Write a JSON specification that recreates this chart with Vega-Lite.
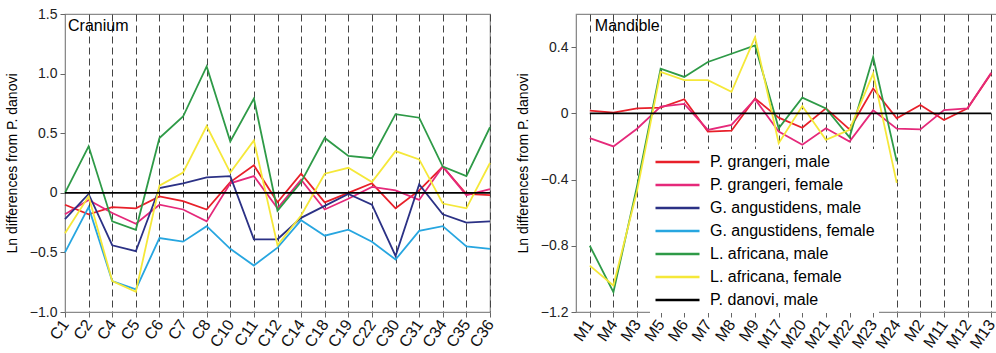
{
  "$schema": "https://vega.github.io/schema/vega-lite/v6.json",
  "padding": {"left": 4, "top": 6, "right": 0, "bottom": 0},
  "config": {
    "font": "Liberation Sans",
    "view": {"stroke": "#8a8a8a", "strokeWidth": 1.2},
    "axis": {"labelFont": "Liberation Sans", "titleFont": "Liberation Sans"}
  },
  "datasets": {
    "cranium": [
      {"part":"C1","series":"P. grangeri, male","value":-0.10},{"part":"C2","series":"P. grangeri, male","value":-0.18},{"part":"C4","series":"P. grangeri, male","value":-0.12},{"part":"C5","series":"P. grangeri, male","value":-0.13},{"part":"C6","series":"P. grangeri, male","value":-0.03},{"part":"C7","series":"P. grangeri, male","value":-0.07},{"part":"C8","series":"P. grangeri, male","value":-0.14},{"part":"C10","series":"P. grangeri, male","value":0.09},{"part":"C11","series":"P. grangeri, male","value":0.23},{"part":"C12","series":"P. grangeri, male","value":-0.08},{"part":"C14","series":"P. grangeri, male","value":0.16},{"part":"C18","series":"P. grangeri, male","value":-0.08},{"part":"C19","series":"P. grangeri, male","value":0.0},{"part":"C22","series":"P. grangeri, male","value":0.08},{"part":"C30","series":"P. grangeri, male","value":-0.13},{"part":"C31","series":"P. grangeri, male","value":0.02},{"part":"C34","series":"P. grangeri, male","value":0.22},{"part":"C35","series":"P. grangeri, male","value":-0.01},{"part":"C36","series":"P. grangeri, male","value":-0.02},
      {"part":"C1","series":"P. grangeri, female","value":-0.18},{"part":"C2","series":"P. grangeri, female","value":-0.06},{"part":"C4","series":"P. grangeri, female","value":-0.17},{"part":"C5","series":"P. grangeri, female","value":-0.26},{"part":"C6","series":"P. grangeri, female","value":-0.10},{"part":"C7","series":"P. grangeri, female","value":-0.14},{"part":"C8","series":"P. grangeri, female","value":-0.24},{"part":"C10","series":"P. grangeri, female","value":0.08},{"part":"C11","series":"P. grangeri, female","value":0.14},{"part":"C12","series":"P. grangeri, female","value":-0.13},{"part":"C14","series":"P. grangeri, female","value":0.11},{"part":"C18","series":"P. grangeri, female","value":-0.14},{"part":"C19","series":"P. grangeri, female","value":-0.05},{"part":"C22","series":"P. grangeri, female","value":0.05},{"part":"C30","series":"P. grangeri, female","value":0.02},{"part":"C31","series":"P. grangeri, female","value":-0.06},{"part":"C34","series":"P. grangeri, female","value":0.22},{"part":"C35","series":"P. grangeri, female","value":-0.02},{"part":"C36","series":"P. grangeri, female","value":0.03},
      {"part":"C1","series":"G. angustidens, male","value":-0.22},{"part":"C2","series":"G. angustidens, male","value":-0.01},{"part":"C4","series":"G. angustidens, male","value":-0.44},{"part":"C5","series":"G. angustidens, male","value":-0.49},{"part":"C6","series":"G. angustidens, male","value":0.04},{"part":"C7","series":"G. angustidens, male","value":0.08},{"part":"C8","series":"G. angustidens, male","value":0.13},{"part":"C10","series":"G. angustidens, male","value":0.14},{"part":"C11","series":"G. angustidens, male","value":-0.39},{"part":"C12","series":"G. angustidens, male","value":-0.39},{"part":"C14","series":"G. angustidens, male","value":-0.21},{"part":"C18","series":"G. angustidens, male","value":-0.11},{"part":"C19","series":"G. angustidens, male","value":-0.01},{"part":"C22","series":"G. angustidens, male","value":-0.10},{"part":"C30","series":"G. angustidens, male","value":-0.53},{"part":"C31","series":"G. angustidens, male","value":0.07},{"part":"C34","series":"G. angustidens, male","value":-0.18},{"part":"C35","series":"G. angustidens, male","value":-0.25},{"part":"C36","series":"G. angustidens, male","value":-0.24},
      {"part":"C1","series":"G. angustidens, female","value":-0.50},{"part":"C2","series":"G. angustidens, female","value":-0.12},{"part":"C4","series":"G. angustidens, female","value":-0.74},{"part":"C5","series":"G. angustidens, female","value":-0.81},{"part":"C6","series":"G. angustidens, female","value":-0.38},{"part":"C7","series":"G. angustidens, female","value":-0.41},{"part":"C8","series":"G. angustidens, female","value":-0.28},{"part":"C10","series":"G. angustidens, female","value":-0.47},{"part":"C11","series":"G. angustidens, female","value":-0.61},{"part":"C12","series":"G. angustidens, female","value":-0.46},{"part":"C14","series":"G. angustidens, female","value":-0.23},{"part":"C18","series":"G. angustidens, female","value":-0.36},{"part":"C19","series":"G. angustidens, female","value":-0.31},{"part":"C22","series":"G. angustidens, female","value":-0.41},{"part":"C30","series":"G. angustidens, female","value":-0.56},{"part":"C31","series":"G. angustidens, female","value":-0.32},{"part":"C34","series":"G. angustidens, female","value":-0.28},{"part":"C35","series":"G. angustidens, female","value":-0.45},{"part":"C36","series":"G. angustidens, female","value":-0.47},
      {"part":"C1","series":"L. africana, male","value":0.0},{"part":"C2","series":"L. africana, male","value":0.39},{"part":"C4","series":"L. africana, male","value":-0.24},{"part":"C5","series":"L. africana, male","value":-0.31},{"part":"C6","series":"L. africana, male","value":0.46},{"part":"C7","series":"L. africana, male","value":0.64},{"part":"C8","series":"L. africana, male","value":1.06},{"part":"C10","series":"L. africana, male","value":0.43},{"part":"C11","series":"L. africana, male","value":0.79},{"part":"C12","series":"L. africana, male","value":-0.15},{"part":"C14","series":"L. africana, male","value":0.09},{"part":"C18","series":"L. africana, male","value":0.46},{"part":"C19","series":"L. africana, male","value":0.31},{"part":"C22","series":"L. africana, male","value":0.29},{"part":"C30","series":"L. africana, male","value":0.66},{"part":"C31","series":"L. africana, male","value":0.63},{"part":"C34","series":"L. africana, male","value":0.22},{"part":"C35","series":"L. africana, male","value":0.14},{"part":"C36","series":"L. africana, male","value":0.55},
      {"part":"C1","series":"L. africana, female","value":-0.34},{"part":"C2","series":"L. africana, female","value":-0.03},{"part":"C4","series":"L. africana, female","value":-0.74},{"part":"C5","series":"L. africana, female","value":-0.83},{"part":"C6","series":"L. africana, female","value":0.06},{"part":"C7","series":"L. africana, female","value":0.17},{"part":"C8","series":"L. africana, female","value":0.56},{"part":"C10","series":"L. africana, female","value":0.17},{"part":"C11","series":"L. africana, female","value":0.44},{"part":"C12","series":"L. africana, female","value":-0.44},{"part":"C14","series":"L. africana, female","value":-0.19},{"part":"C18","series":"L. africana, female","value":0.16},{"part":"C19","series":"L. africana, female","value":0.21},{"part":"C22","series":"L. africana, female","value":0.09},{"part":"C30","series":"L. africana, female","value":0.35},{"part":"C31","series":"L. africana, female","value":0.28},{"part":"C34","series":"L. africana, female","value":-0.09},{"part":"C35","series":"L. africana, female","value":-0.13},{"part":"C36","series":"L. africana, female","value":0.25},
      {"part":"C1","series":"P. danovi, male","value":0},{"part":"C2","series":"P. danovi, male","value":0},{"part":"C4","series":"P. danovi, male","value":0},{"part":"C5","series":"P. danovi, male","value":0},{"part":"C6","series":"P. danovi, male","value":0},{"part":"C7","series":"P. danovi, male","value":0},{"part":"C8","series":"P. danovi, male","value":0},{"part":"C10","series":"P. danovi, male","value":0},{"part":"C11","series":"P. danovi, male","value":0},{"part":"C12","series":"P. danovi, male","value":0},{"part":"C14","series":"P. danovi, male","value":0},{"part":"C18","series":"P. danovi, male","value":0},{"part":"C19","series":"P. danovi, male","value":0},{"part":"C22","series":"P. danovi, male","value":0},{"part":"C30","series":"P. danovi, male","value":0},{"part":"C31","series":"P. danovi, male","value":0},{"part":"C34","series":"P. danovi, male","value":0},{"part":"C35","series":"P. danovi, male","value":0},{"part":"C36","series":"P. danovi, male","value":0}
    ],
    "mandible": [
      {"part":"M1","series":"P. grangeri, male","value":0.016},{"part":"M4","series":"P. grangeri, male","value":0.004},{"part":"M3","series":"P. grangeri, male","value":0.03},{"part":"M5","series":"P. grangeri, male","value":0.034},{"part":"M6","series":"P. grangeri, male","value":0.085},{"part":"M7","series":"P. grangeri, male","value":-0.11},{"part":"M8","series":"P. grangeri, male","value":-0.105},{"part":"M9","series":"P. grangeri, male","value":0.09},{"part":"M17","series":"P. grangeri, male","value":-0.026},{"part":"M20","series":"P. grangeri, male","value":-0.087},{"part":"M21","series":"P. grangeri, male","value":0.03},{"part":"M22","series":"P. grangeri, male","value":-0.097},{"part":"M23","series":"P. grangeri, male","value":0.15},{"part":"M24","series":"P. grangeri, male","value":-0.03},{"part":"M2","series":"P. grangeri, male","value":0.05},{"part":"M11","series":"P. grangeri, male","value":-0.04},{"part":"M12","series":"P. grangeri, male","value":0.03},{"part":"M13","series":"P. grangeri, male","value":0.24},
      {"part":"M1","series":"P. grangeri, female","value":-0.15},{"part":"M4","series":"P. grangeri, female","value":-0.20},{"part":"M3","series":"P. grangeri, female","value":-0.093},{"part":"M5","series":"P. grangeri, female","value":0.04},{"part":"M6","series":"P. grangeri, female","value":0.057},{"part":"M7","series":"P. grangeri, female","value":-0.10},{"part":"M8","series":"P. grangeri, female","value":-0.07},{"part":"M9","series":"P. grangeri, female","value":0.085},{"part":"M17","series":"P. grangeri, female","value":-0.11},{"part":"M20","series":"P. grangeri, female","value":-0.19},{"part":"M21","series":"P. grangeri, female","value":-0.09},{"part":"M22","series":"P. grangeri, female","value":-0.17},{"part":"M23","series":"P. grangeri, female","value":0.018},{"part":"M24","series":"P. grangeri, female","value":-0.093},{"part":"M2","series":"P. grangeri, female","value":-0.097},{"part":"M11","series":"P. grangeri, female","value":0.02},{"part":"M12","series":"P. grangeri, female","value":0.03},{"part":"M13","series":"P. grangeri, female","value":0.245},
      {"part":"M1","series":"L. africana, male","value":-0.80},{"part":"M4","series":"L. africana, male","value":-1.08},{"part":"M3","series":"L. africana, male","value":-0.44},{"part":"M5","series":"L. africana, male","value":0.27},{"part":"M6","series":"L. africana, male","value":0.22},{"part":"M7","series":"L. africana, male","value":0.31},{"part":"M8","series":"L. africana, male","value":0.36},{"part":"M9","series":"L. africana, male","value":0.41},{"part":"M17","series":"L. africana, male","value":-0.09},{"part":"M20","series":"L. africana, male","value":0.095},{"part":"M21","series":"L. africana, male","value":0.03},{"part":"M22","series":"L. africana, male","value":-0.145},{"part":"M23","series":"L. africana, male","value":0.34},{"part":"M24","series":"L. africana, male","value":-0.29},
      {"part":"M1","series":"L. africana, female","value":-0.92},{"part":"M4","series":"L. africana, female","value":-1.04},{"part":"M3","series":"L. africana, female","value":-0.47},{"part":"M5","series":"L. africana, female","value":0.25},{"part":"M6","series":"L. africana, female","value":0.20},{"part":"M7","series":"L. africana, female","value":0.20},{"part":"M8","series":"L. africana, female","value":0.13},{"part":"M9","series":"L. africana, female","value":0.46},{"part":"M17","series":"L. africana, female","value":-0.18},{"part":"M20","series":"L. africana, female","value":0.044},{"part":"M21","series":"L. africana, female","value":-0.16},{"part":"M22","series":"L. africana, female","value":-0.10},{"part":"M23","series":"L. africana, female","value":0.24},{"part":"M24","series":"L. africana, female","value":-0.42},
      {"part":"M1","series":"P. danovi, male","value":0},{"part":"M4","series":"P. danovi, male","value":0},{"part":"M3","series":"P. danovi, male","value":0},{"part":"M5","series":"P. danovi, male","value":0},{"part":"M6","series":"P. danovi, male","value":0},{"part":"M7","series":"P. danovi, male","value":0},{"part":"M8","series":"P. danovi, male","value":0},{"part":"M9","series":"P. danovi, male","value":0},{"part":"M17","series":"P. danovi, male","value":0},{"part":"M20","series":"P. danovi, male","value":0},{"part":"M21","series":"P. danovi, male","value":0},{"part":"M22","series":"P. danovi, male","value":0},{"part":"M23","series":"P. danovi, male","value":0},{"part":"M24","series":"P. danovi, male","value":0},{"part":"M2","series":"P. danovi, male","value":0},{"part":"M11","series":"P. danovi, male","value":0},{"part":"M12","series":"P. danovi, male","value":0},{"part":"M13","series":"P. danovi, male","value":0}
    ]
  },
  "resolve": {"scale": {"color": "independent"}, "legend": {"color": "independent"}},
  "spacing": 17,
  "hconcat": [
    {
      "width": 425,
      "height": 298,
      "layer": [
        {
          "data": {"name": "cranium"},
          "mark": {"type": "line", "strokeWidth": 1.8},
          "encoding": {
            "x": {"field": "part", "type": "ordinal", "sort": null,
                  "scale": {"type": "point", "padding": 0, "domain": ["C1","C2","C4","C5","C6","C7","C8","C10","C11","C12","C14","C18","C19","C22","C30","C31","C34","C35","C36"]},
                  "axis": {"title": null, "labelAngle": -55, "labelFontSize": 16, "labelColor": "#111", "grid": true, "gridDash": [7, 4], "gridColor": "#444", "gridWidth": 1, "tickSize": 5, "tickColor": "#666", "domainColor": "#8a8a8a", "labelPadding": 4}},
            "y": {"field": "value", "type": "quantitative",
                  "scale": {"domain": [-1, 1.5], "nice": false, "zero": false},
                  "axis": {"title": "Ln differences from P. danovi", "titleFontSize": 14, "titleFontWeight": "normal", "titleColor": "#000", "titlePadding": 10,
                           "values": [-1, -0.5, 0, 0.5, 1, 1.5], "labelExpr": "datum.value == 0 ? '0' : format(datum.value, '.1f')",
                           "labelFontSize": 14, "labelColor": "#222", "tickColor": "#666", "tickSize": 5, "labelPadding": 3, "domainColor": "#8a8a8a", "grid": false}},
            "color": {"field": "series", "type": "nominal", "legend": null,
                      "scale": {"domain": ["P. grangeri, male","P. grangeri, female","G. angustidens, male","G. angustidens, female","L. africana, male","L. africana, female","P. danovi, male"],
                                "range": ["#e8202a","#e5297a","#2b3185","#27a6e0","#2e9a47","#f5e839","#000000"]}}
          }
        },
        {
          "data": {"values": [{"label": "Cranium", "part": "C1", "value": 1.5}]},
          "mark": {"type": "text", "align": "left", "baseline": "alphabetic", "dx": 3, "dy": 17, "fontSize": 16, "color": "#000", "font": "Liberation Sans"},
          "encoding": {
            "x": {"field": "part", "type": "ordinal"},
            "y": {"field": "value", "type": "quantitative"},
            "text": {"field": "label"}
          }
        }
      ]
    },
    {
      "width": 432,
      "height": 298,
      "layer": [
        {
          "data": {"name": "mandible"},
          "mark": {"type": "line", "strokeWidth": 1.8},
          "encoding": {
            "x": {"field": "part", "type": "ordinal", "sort": null,
                  "scale": {"type": "point", "range": [2, 427], "domain": ["M1","M4","M3","M5","M6","M7","M8","M9","M17","M20","M21","M22","M23","M24","M2","M11","M12","M13"]},
                  "axis": {"title": null, "labelAngle": -55, "labelFontSize": 16, "labelColor": "#111", "grid": true, "gridDash": [7, 4], "gridColor": "#444", "gridWidth": 1, "tickSize": 5, "tickColor": "#666", "domainColor": "#8a8a8a", "labelPadding": 4}},
            "y": {"field": "value", "type": "quantitative",
                  "scale": {"domain": [-1.2, 0.6], "nice": false, "zero": false},
                  "axis": {"title": "Ln differences from P. danovi", "titleFontSize": 14, "titleFontWeight": "normal", "titleColor": "#000", "titlePadding": 10,
                           "values": [-1.2, -1, -0.8, -0.6, -0.4, -0.2, 0, 0.2, 0.4],
                           "labelExpr": "abs(round(datum.value * 10)) % 4 == 0 ? (datum.value == 0 ? '0' : format(datum.value, '.1f')) : ''",
                           "labelFontSize": 14, "labelColor": "#222", "tickColor": "#666", "tickSize": 5, "labelPadding": 3, "domainColor": "#8a8a8a", "grid": false}},
            "color": {"field": "series", "type": "nominal",
                      "scale": {"domain": ["P. grangeri, male","P. grangeri, female","G. angustidens, male","G. angustidens, female","L. africana, male","L. africana, female","P. danovi, male"],
                                "range": ["#e8202a","#e5297a","#2b3185","#27a6e0","#2e9a47","#f5e839","#000000"]},
                      "legend": {"orient": "none", "legendX": 74, "legendY": 135, "title": null, "symbolType": "stroke", "symbolSize": 1936, "symbolStrokeWidth": 2.5,
                                 "labelFontSize": 16, "labelColor": "#000", "labelOffset": 9, "clipHeight": 18, "rowPadding": 5, "padding": 4, "fillColor": "white", "labelLimit": 300, "labelFont": "Liberation Sans"}}
          }
        },
        {
          "data": {"values": [{"label": "Mandible", "part": "M1", "value": 0.6}]},
          "mark": {"type": "text", "align": "left", "baseline": "alphabetic", "dx": 5, "dy": 17, "fontSize": 16, "color": "#000", "font": "Liberation Sans"},
          "encoding": {
            "x": {"field": "part", "type": "ordinal"},
            "y": {"field": "value", "type": "quantitative"},
            "text": {"field": "label"}
          }
        }
      ]
    }
  ]
}
